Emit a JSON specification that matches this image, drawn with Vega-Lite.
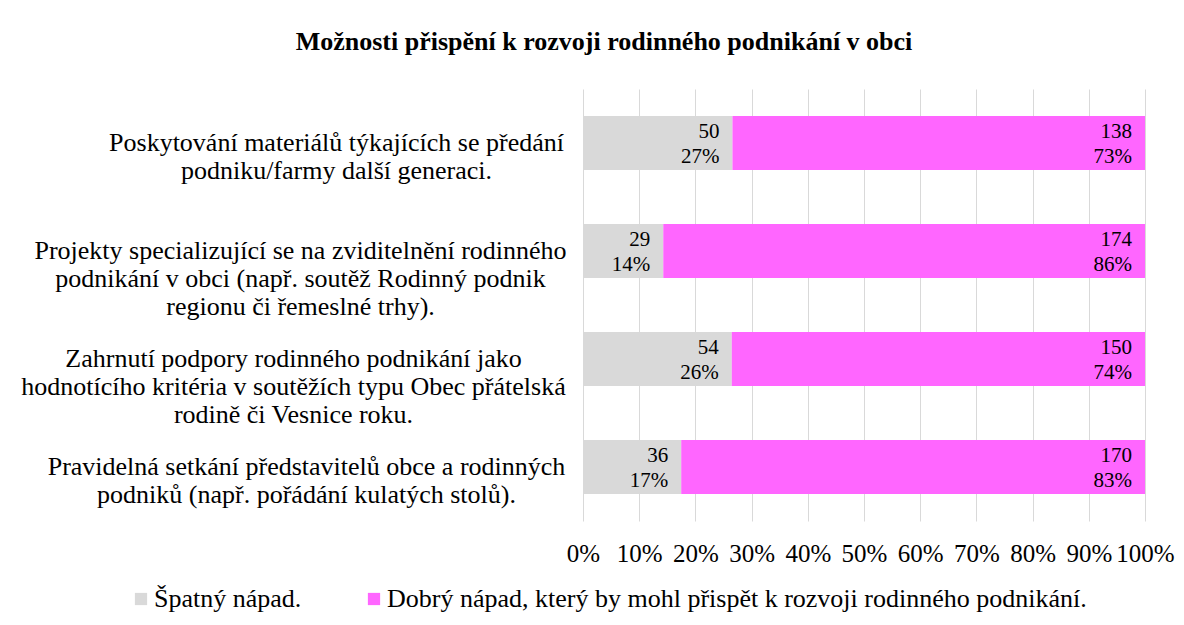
{
  "$schema": "https://vega.github.io/schema/vega-lite/v6.json",
  "width": 562,
  "height": 432,
  "autosize": {"type": "none"},
  "padding": {"left": 583, "top": 89, "right": 39, "bottom": 104},
  "background": "white",
  "config": {
    "view": {"stroke": null},
    "font": "Liberation Serif"
  },
  "title": {
    "text": "Možnosti přispění k rozvoji rodinného podnikání v obci",
    "font": "Liberation Serif",
    "fontSize": 26,
    "fontWeight": "bold",
    "color": "#000000",
    "anchor": "middle",
    "baseline": "alphabetic",
    "offset": 13,
    "dx": -260
  },
  "data": {
    "values": [
      {"cat": "Poskytování materiálů týkajících se předání|podniku/farmy další generaci.", "resp": "Špatný nápad.", "k": 1, "n": 50, "pct": 0.27},
      {"cat": "Poskytování materiálů týkajících se předání|podniku/farmy další generaci.", "resp": "Dobrý nápad, který by mohl přispět k rozvoji rodinného podnikání.", "k": 2, "n": 138, "pct": 0.73},
      {"cat": "Projekty specializující se na zviditelnění rodinného|podnikání v obci (např. soutěž Rodinný podnik|regionu či řemeslné trhy).", "resp": "Špatný nápad.", "k": 1, "n": 29, "pct": 0.14},
      {"cat": "Projekty specializující se na zviditelnění rodinného|podnikání v obci (např. soutěž Rodinný podnik|regionu či řemeslné trhy).", "resp": "Dobrý nápad, který by mohl přispět k rozvoji rodinného podnikání.", "k": 2, "n": 174, "pct": 0.86},
      {"cat": "Zahrnutí podpory rodinného podnikání jako|hodnotícího kritéria v soutěžích typu Obec přátelská|rodině či Vesnice roku.", "resp": "Špatný nápad.", "k": 1, "n": 54, "pct": 0.26},
      {"cat": "Zahrnutí podpory rodinného podnikání jako|hodnotícího kritéria v soutěžích typu Obec přátelská|rodině či Vesnice roku.", "resp": "Dobrý nápad, který by mohl přispět k rozvoji rodinného podnikání.", "k": 2, "n": 150, "pct": 0.74},
      {"cat": "Pravidelná setkání představitelů obce a rodinných|podniků (např. pořádání kulatých stolů).", "resp": "Špatný nápad.", "k": 1, "n": 36, "pct": 0.17},
      {"cat": "Pravidelná setkání představitelů obce a rodinných|podniků (např. pořádání kulatých stolů).", "resp": "Dobrý nápad, který by mohl přispět k rozvoji rodinného podnikání.", "k": 2, "n": 170, "pct": 0.83}
    ]
  },
  "encoding": {
    "y": {
      "field": "cat",
      "type": "nominal",
      "sort": null,
      "scale": {"paddingInner": 0.5, "paddingOuter": 0.25},
      "axis": {
        "title": null,
        "domain": false,
        "ticks": false,
        "tickSize": 0,
        "labelExpr": "split(datum.label, '|')",
        "labelAlign": "center",
        "labelPadding": {
          "condition": [
            {"test": "indexof(datum.value, 'Poskytování') == 0", "value": 247},
            {"test": "indexof(datum.value, 'Zahrnutí') == 0", "value": 290},
            {"test": "indexof(datum.value, 'Pravidelná') == 0", "value": 277}
          ],
          "value": 283
        },
        "labelFont": "Liberation Serif",
        "labelFontSize": 26,
        "labelLineHeight": 28,
        "labelColor": "#000000",
        "labelLimit": 800
      }
    },
    "x": {
      "field": "n",
      "type": "quantitative",
      "stack": "normalize",
      "scale": {"domain": [0, 1]},
      "axis": {
        "title": null,
        "format": ".0%",
        "values": [0, 0.1, 0.2, 0.3, 0.4, 0.5, 0.6, 0.7, 0.8, 0.9, 1],
        "domain": false,
        "ticks": false,
        "tickSize": 0,
        "labelPadding": 20,
        "labelFont": "Liberation Serif",
        "labelFontSize": 25,
        "labelColor": "#000000",
        "labelOverlap": false,
        "labelFlush": false,
        "grid": true,
        "gridColor": "#d9d9d9",
        "gridWidth": 1
      }
    },
    "order": {"field": "k", "type": "quantitative"}
  },
  "layer": [
    {
      "mark": {"type": "bar"},
      "encoding": {
        "color": {
          "field": "resp",
          "type": "nominal",
          "scale": {
            "domain": ["Špatný nápad.", "Dobrý nápad, který by mohl přispět k rozvoji rodinného podnikání."],
            "range": ["#d9d9d9", "#ff66ff"]
          },
          "legend": {
            "title": null,
            "orient": "none",
            "direction": "horizontal",
            "legendX": -455,
            "legendY": 497,
            "symbolType": "square",
            "symbolSize": 150,
            "symbolStrokeWidth": 0,
            "symbolOpacity": 1,
            "labelFont": "Liberation Serif",
            "labelFontSize": 26,
            "labelColor": "#000000",
            "labelOffset": 0,
            "labelLimit": 900,
            "columnPadding": 59
          }
        }
      }
    },
    {
      "mark": {"type": "text", "align": "right", "baseline": "alphabetic", "dx": -13, "dy": -5, "fontSize": 21, "font": "Liberation Serif", "color": "#000000"},
      "encoding": {
        "text": {"field": "n", "type": "quantitative"}
      }
    },
    {
      "mark": {"type": "text", "align": "right", "baseline": "alphabetic", "dx": -13, "dy": 20, "fontSize": 21, "font": "Liberation Serif", "color": "#000000"},
      "encoding": {
        "text": {"field": "pct", "type": "quantitative", "format": ".0%"}
      }
    }
  ]
}
